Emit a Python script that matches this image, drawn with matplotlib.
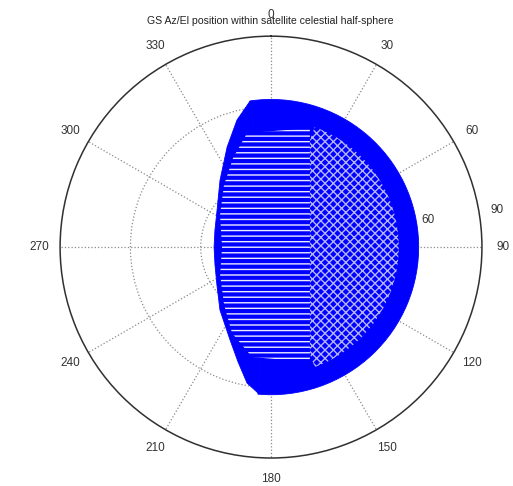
import matplotlib.pyplot as plt
import numpy as np

plt.rcParams['font.family'] = ['Liberation Sans', 'DejaVu Sans']
plt.rcParams['hatch.linewidth'] = 1.0

# GS track, azimuth in deg (clockwise from north) and zenith distance in deg
# right side: sector of constant zenith distance
arc_start, arc_end, arc_r = -8.2, 185.1, 63.0
# left side: flattened boundary from the top corner down to the bottom corner
left_az = [-8.2, -15.0, -23.7, -37.3, -55.6, -73.1, -90, -107.8, -125.1, -141, -156.2, -164.0, -170, -174.9]
left_r = [62.9, 56.1, 46.6, 35.9, 27.9, 25.0, 24.3, 25.1, 28.2, 34.6, 43.3, 51.0, 58.9, 62.5]

# inner parts where the passes leave gaps: long horizontal loops on the left, a mesh on the right
loops_az = [-11.9, 18.1, 161.3, 189.8, 204.4, 219.0, 241.2, 270, 302.1, 322.8, 336.9]
loops_r = [49.7, 53.4, 51.8, 47.6, 40.3, 31.8, 24.8, 20.9, 25.7, 33.2, 41.3]
mesh_start, mesh_end, mesh_r = 20, 160, 54.5

angle_ticks = [0, 30, 60, 90, 120, 150, 180, 210, 240, 270, 300, 330]
range_rings = [30, 60, 90]

fig = plt.figure(figsize=(5.13, 4.86), dpi=100)
ax = fig.add_axes([0.117, 0.0576, 0.8226, 0.868], projection='polar')
ax.set_theta_zero_location('N')
ax.set_theta_direction(-1)
ax.set_rlim(0, 90)
ax.set_xticks(np.radians(angle_ticks))
ax.set_xticklabels([])
ax.set_yticks(range_rings[:-1])
ax.set_yticklabels([])
ax.grid(True, linestyle=':', color='#8a8a8a', linewidth=0.9)
ax.spines['polar'].set_color('#303030')
ax.spines['polar'].set_linewidth(1.1)

for ring in range_rings:
    ax.text(np.radians(82), ring + 4.7, str(ring), ha='left', va='bottom', fontsize=8.5,
            color='#333333', clip_on=False, zorder=0)

blue = '#0000ff'
ax.bar(np.radians(arc_start), arc_r, width=np.radians(arc_end - arc_start), bottom=0,
       align='edge', color=blue, edgecolor=blue, linewidth=0.6, zorder=3)
ax.fill(np.radians([0] + left_az), [0] + left_r, facecolor=blue, edgecolor=blue,
        linewidth=0.6, zorder=3)
ax.bar(np.radians(mesh_start), mesh_r, width=np.radians(mesh_end - mesh_start), bottom=0,
       align='edge', color=blue, edgecolor='#b4b4ff', linewidth=0, hatch='xxxx', zorder=4)
ax.fill(np.radians(loops_az), loops_r, facecolor=blue, edgecolor='#ececff',
        linewidth=0, hatch='---', zorder=5)

for a in angle_ticks:
    ax.text(np.radians(a), 99, str(a), ha='center', va='center', fontsize=8.5,
            color='#333333', clip_on=False)

fig.text(0.527, 0.957, 'GS Az/El position within satellite celestial half-sphere',
         ha='center', va='center', fontsize=7.6, color='#222222')

fig.savefig('out.png', dpi=100)
